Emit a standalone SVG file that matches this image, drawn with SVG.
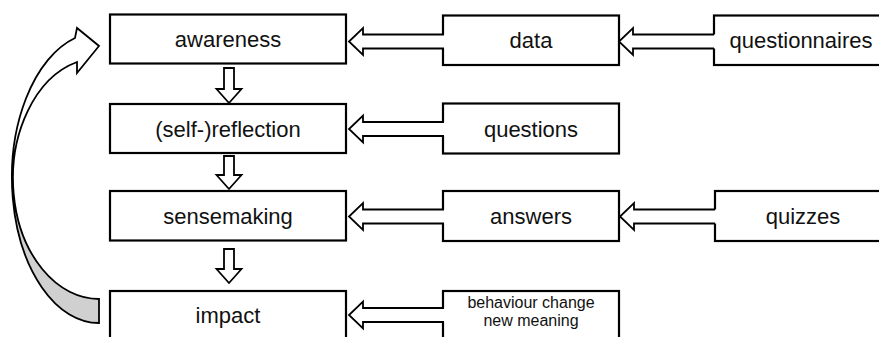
<svg xmlns="http://www.w3.org/2000/svg" xmlns:xlink="http://www.w3.org/1999/xlink" width="879" height="337" viewBox="0 0 879 337">
<style>
.box{fill:#fff;stroke:#000;stroke-width:2.2}
.lbl{font-family:"Liberation Sans",Arial,sans-serif;font-size:22px;fill:#111;text-anchor:middle}
.sm{font-size:16px}
.af{fill:#fff;stroke:none}
.al{fill:none;stroke:#000;stroke-width:1.8;stroke-linejoin:miter}
.ac{fill:#fff;stroke:#000;stroke-width:1.8;stroke-linejoin:miter}
</style>
<defs>
<path id="hf" d="M0,0 L14,-13.5 L14,-7 L97,-7 L97,7 L14,7 L14,13.5 Z"/>
<path id="hl" d="M95,-7 L14,-7 L14,-13.5 L0,0 L14,13.5 L14,7 L95,7"/>
</defs>
<rect width="879" height="337" fill="#fff"/>
<g id="awareness"><rect class="box" x="110" y="14.5" width="236" height="49"/><text class="lbl" x="228" y="47">awareness</text></g>
<g id="reflection"><rect class="box" x="110" y="104" width="236" height="49"/><text class="lbl" x="228" y="136.5">(self-)reflection</text></g>
<g id="sensemaking"><rect class="box" x="110" y="191" width="236" height="49.5"/><text class="lbl" x="228" y="224">sensemaking</text></g>
<g id="impact"><rect class="box" x="110" y="291" width="236" height="52"/><text class="lbl" x="228" y="323">impact</text></g>
<g id="data"><rect class="box" x="443" y="15.5" width="176" height="49.5"/><text class="lbl" x="531" y="48">data</text></g>
<g id="questionnaires"><rect class="box" x="714" y="15.5" width="180" height="49.5"/><text class="lbl" x="801" y="48">questionnaires</text></g>
<g id="questions"><rect class="box" x="443" y="103.5" width="176" height="50"/><text class="lbl" x="531" y="136.5">questions</text></g>
<g id="answers"><rect class="box" x="443" y="191" width="176" height="50"/><text class="lbl" x="531" y="224">answers</text></g>
<g id="quizzes"><rect class="box" x="715" y="191" width="180" height="50"/><text class="lbl" x="803" y="224">quizzes</text></g>
<g id="behaviour"><rect class="box" x="443" y="291" width="176" height="52"/><text class="lbl sm" x="531" y="307.5">behaviour change</text><text class="lbl sm" x="531" y="325.5">new meaning</text></g>
<g id="connectors">
<g transform="translate(349,41.5)"><use xlink:href="#hf" class="af"/><use xlink:href="#hl" class="al"/></g>
<g transform="translate(619,41.5)"><use xlink:href="#hf" class="af"/><use xlink:href="#hl" class="al"/></g>
<g transform="translate(349,129)"><use xlink:href="#hf" class="af"/><use xlink:href="#hl" class="al"/></g>
<g transform="translate(349,216.5)"><use xlink:href="#hf" class="af"/><use xlink:href="#hl" class="al"/></g>
<g transform="translate(620,216.5)"><use xlink:href="#hf" class="af"/><use xlink:href="#hl" class="al"/></g>
<g transform="translate(349,315)"><use xlink:href="#hf" class="af"/><use xlink:href="#hl" class="al"/></g>
<path class="ac" d="M229,103 L216.5,89 L224,89 L224,68 L234,68 L234,89 L241.5,89 Z"/>
<path class="ac" d="M229,189 L216.5,175 L224,175 L224,156 L234,156 L234,175 L241.5,175 Z"/>
<path class="ac" d="M229,283 L216.5,269 L224,269 L224,249 L234,249 L234,269 L241.5,269 Z"/>
<path d="M99,323 A87,145.3 0 0 1 75,38 L77,28 L99,46 L77,73 L77,62 A86,120.5 0 0 0 99,299 Z" fill="#fff" stroke="none"/>
<path d="M99,323 A87,145.3 0 0 1 12,177.7 L13,178.5 A86,120.5 0 0 0 99,299 Z" fill="#d0d0d0" stroke="none"/>
<path class="al" d="M99,323 A87,145.3 0 0 1 75,38 L77,28 L99,46 L77,73 L77,62 A86,120.5 0 0 0 99,299 Z"/>
</g>
</svg>
